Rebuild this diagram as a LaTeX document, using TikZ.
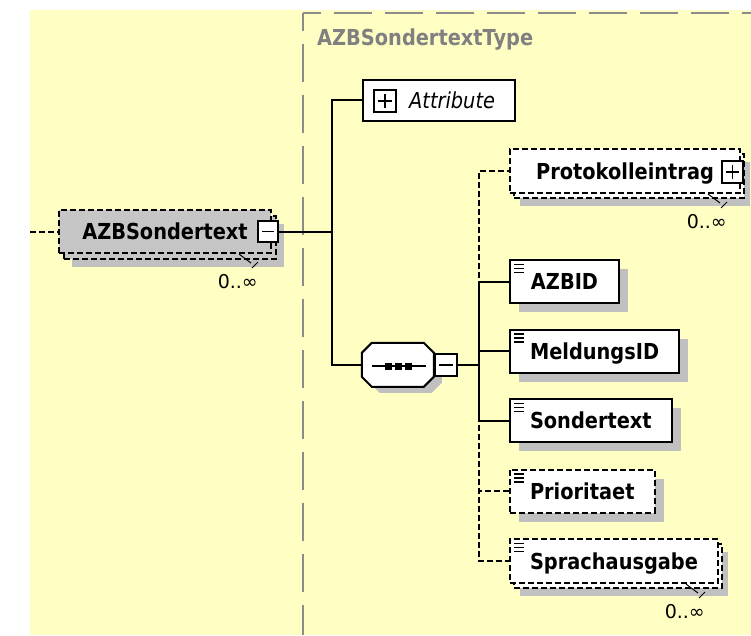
\documentclass[tikz,border=0pt]{standalone}
\usepackage{fontspec}
\usetikzlibrary{shadows,calc,positioning}

\newfontfamily\tahoma[FakeStretch=0.88]{DejaVu Sans}
\newfontfamily\tahomawide{DejaVu Sans}

\definecolor{xsdyellow}{RGB}{255,255,196}
\definecolor{xsdshadow}{RGB}{192,192,192}
\definecolor{xsdframe}{RGB}{140,140,140}
\definecolor{xsdtitle}{RGB}{128,128,128}
\definecolor{xsdroot}{RGB}{198,198,198}

\begin{document}
\begin{tikzpicture}[x=1pt, y=-1pt]

\tikzstyle{box} = [rectangle, draw=black, line width=2pt, fill=white, minimum height=43pt, inner xsep=20pt, inner ysep=0pt, text height=16pt, text depth=0pt, anchor=west, font=\tahoma\bfseries\fontsize{22}{26}\selectfont]
\tikzstyle{elem} = [box, general shadow={fill=xsdshadow, shadow xshift=9pt, shadow yshift=-9pt}]
\tikzstyle{multi} = [box, general shadow={fill=xsdshadow, shadow xshift=10pt, shadow yshift=-13pt}, general shadow={fill=white, draw=black, line width=2pt, dash pattern=on 6pt off 3pt, shadow xshift=4pt, shadow yshift=-5pt}]
\tikzstyle{multiroot} = [box, general shadow={fill=xsdshadow, shadow xshift=13pt, shadow yshift=-14pt}, general shadow={fill=xsdroot, draw=black, line width=2pt, dash pattern=on 6pt off 3pt, shadow xshift=5pt, shadow yshift=-6pt}]
\tikzstyle{optional} = [dash pattern=on 6pt off 3pt]
\tikzstyle{simple} = [path picture={\foreach \dy in {4.5,8.5,12.5} \draw[solid, line width=1.8pt] ($(path picture bounding box.north west)+(4,\dy)$) -- ++(10,0);}]
\tikzstyle{minusbox} = [rectangle, draw=black, line width=1.6pt, fill=white, minimum width=20pt, minimum height=21pt, inner sep=0pt, path picture={\draw[line width=1.6pt] ($(path picture bounding box.west)+(4,0)$) -- ($(path picture bounding box.east)+(-4,0)$);}]
\tikzstyle{plusbox} = [minusbox, path picture={\draw[line width=1.6pt] ($(path picture bounding box.west)+(4,0)$) -- ($(path picture bounding box.east)+(-4,0)$) ($(path picture bounding box.north)+(0,4)$) -- ($(path picture bounding box.south)+(0,-4)$);}]
\tikzstyle{seqbox} = [rectangle, minimum width=72pt, minimum height=44pt, inner sep=0pt]
\tikzstyle{mult} = [font=\tahomawide\fontsize{19}{21}\selectfont, inner sep=0pt, anchor=north east]
\tikzstyle{multtick} = [line width=1pt]
\tikzstyle{conn} = [line width=2pt]
\tikzstyle{optconn} = [line width=2pt, dash pattern=on 6pt off 3pt]

\useasboundingbox (0,0) rectangle (751,635);
\fill[white] (0,0) rectangle (751,635);
\fill[xsdyellow] (30,10) rectangle (751,635);

%% ---------------
%% -- TYPE FRAME --
%% ---------------

\draw[xsdframe, line width=2pt, dash pattern=on 38pt off 13pt, dash phase=20pt] (303,13) -- (751,13);
\draw[xsdframe, line width=2pt, dash pattern=on 38pt off 13pt, dash phase=20pt] (303,13) -- (303,635);
\node (type_title) [anchor=west, inner sep=0pt, text=xsdtitle, font=\tahoma\bfseries\fontsize{22}{26}\selectfont] at (317,40) {AZBSondertextType};

%% ------------------
%% -- ROOT ELEMENT --
%% ------------------

\node (azb_main) [multiroot, optional, fill=xsdroot, minimum width=212pt] at (58,231.5) {AZBSondertext};
\node (main_minus) [minusbox] at (268,231.5) {};
\node (main_mult) [mult] at ($(azb_main.south east)+(-14,20)$) {0..∞};
\draw[multtick] ($(azb_main.south east)+(-33,0)$) -- ++(12,9) ($(azb_main.south east)+(-14,8)$) -- ++(-6,6);

\coordinate (main_in) at (30,231.5);
\draw[optconn] (main_in) -- (azb_main.west);

% attributes
\node (attr) [box, font=\tahoma\itshape\fontsize{22}{26}\selectfont, minimum height=41pt, text width=112pt, align=right] at (362,100) {Attribute};
\node (attr_plus) [plusbox, minimum width=22pt, minimum height=22pt] at (385,101) {};

% sequence
\node (seq) [seqbox] at (398,365) {};
\fill[xsdshadow] ($(seq.north west)+(18,6)$) -- ++(52,0) -- ++(10,10) -- ++(0,24) -- ++(-10,10) -- ++(-52,0) -- ++(-10,-10) -- ++(0,-24) -- cycle;
\draw[line width=2pt, fill=white] ($(seq.north west)+(10,0)$) -- ++(52,0) -- ++(10,10) -- ++(0,24) -- ++(-10,10) -- ++(-52,0) -- ++(-10,-10) -- ++(0,-24) -- cycle;
\draw[line width=2pt] ($(seq.center)+(-26,1)$) -- ($(seq.center)+(28,1)$);
\foreach \dx in {-10,0,10}
  \fill ($(seq.center)+(\dx,1)$) +(-3.5,-3.5) rectangle +(3.5,3.5);
\node (seq_minus) [minusbox, minimum width=22pt, minimum height=22pt] at (446,365) {};

\draw[conn] (main_minus.east) -- ++(53,0) |- (attr.west);
\draw[conn] (main_minus.east) -- ++(53,0) |- (seq.west);

%% --------------
%% -- CHILDREN --
%% --------------

\node (prot) [multi, optional, minimum width=230pt, minimum height=44pt] at (509,171) {Protokolleintrag};
\node (prot_plus) [plusbox, minimum width=21pt, minimum height=22pt] at (732.5,172) {};
\node (prot_mult) [mult] at ($(prot.south east)+(-14,20)$) {0..∞};
\draw[multtick] ($(prot.south east)+(-33,0)$) -- ++(12,9) ($(prot.south east)+(-14,8)$) -- ++(-6,6);

\node (azbid) [elem, simple, minimum width=109pt] at (509,281.5) {AZBID};
\node (meldungs_id) [elem, simple, minimum width=169pt] at (509,351) {MeldungsID};
\node (sondertext) [elem, simple, minimum width=154pt] at (509,420.5) {Sondertext};
\node (prioritaet) [elem, simple, optional, minimum width=136pt] at (509,491) {Prioritaet};
\node (sprachausgabe) [multi, simple, optional, minimum width=202pt, minimum height=44pt] at (509,561) {Sprachausgabe};
\node (spr_mult) [mult] at ($(sprachausgabe.south east)+(-14,20)$) {0..∞};
\draw[multtick] ($(sprachausgabe.south east)+(-33,0)$) -- ++(12,9) ($(sprachausgabe.south east)+(-14,8)$) -- ++(-6,6);

\draw[optconn] (seq_minus.east) -- ++(21,0) |- (prot.west);
\draw[conn] (seq_minus.east) -- ++(21,0) |- (azbid.west);
\draw[conn] (seq_minus.east) -- ++(21,0) |- (meldungs_id.west);
\draw[conn] (seq_minus.east) -- ++(21,0) |- (sondertext.west);
\draw[optconn] (seq_minus.east) -- ++(21,0) |- (prioritaet.west);
\draw[optconn] (seq_minus.east) -- ++(21,0) |- (sprachausgabe.west);

\end{tikzpicture}
\end{document}
